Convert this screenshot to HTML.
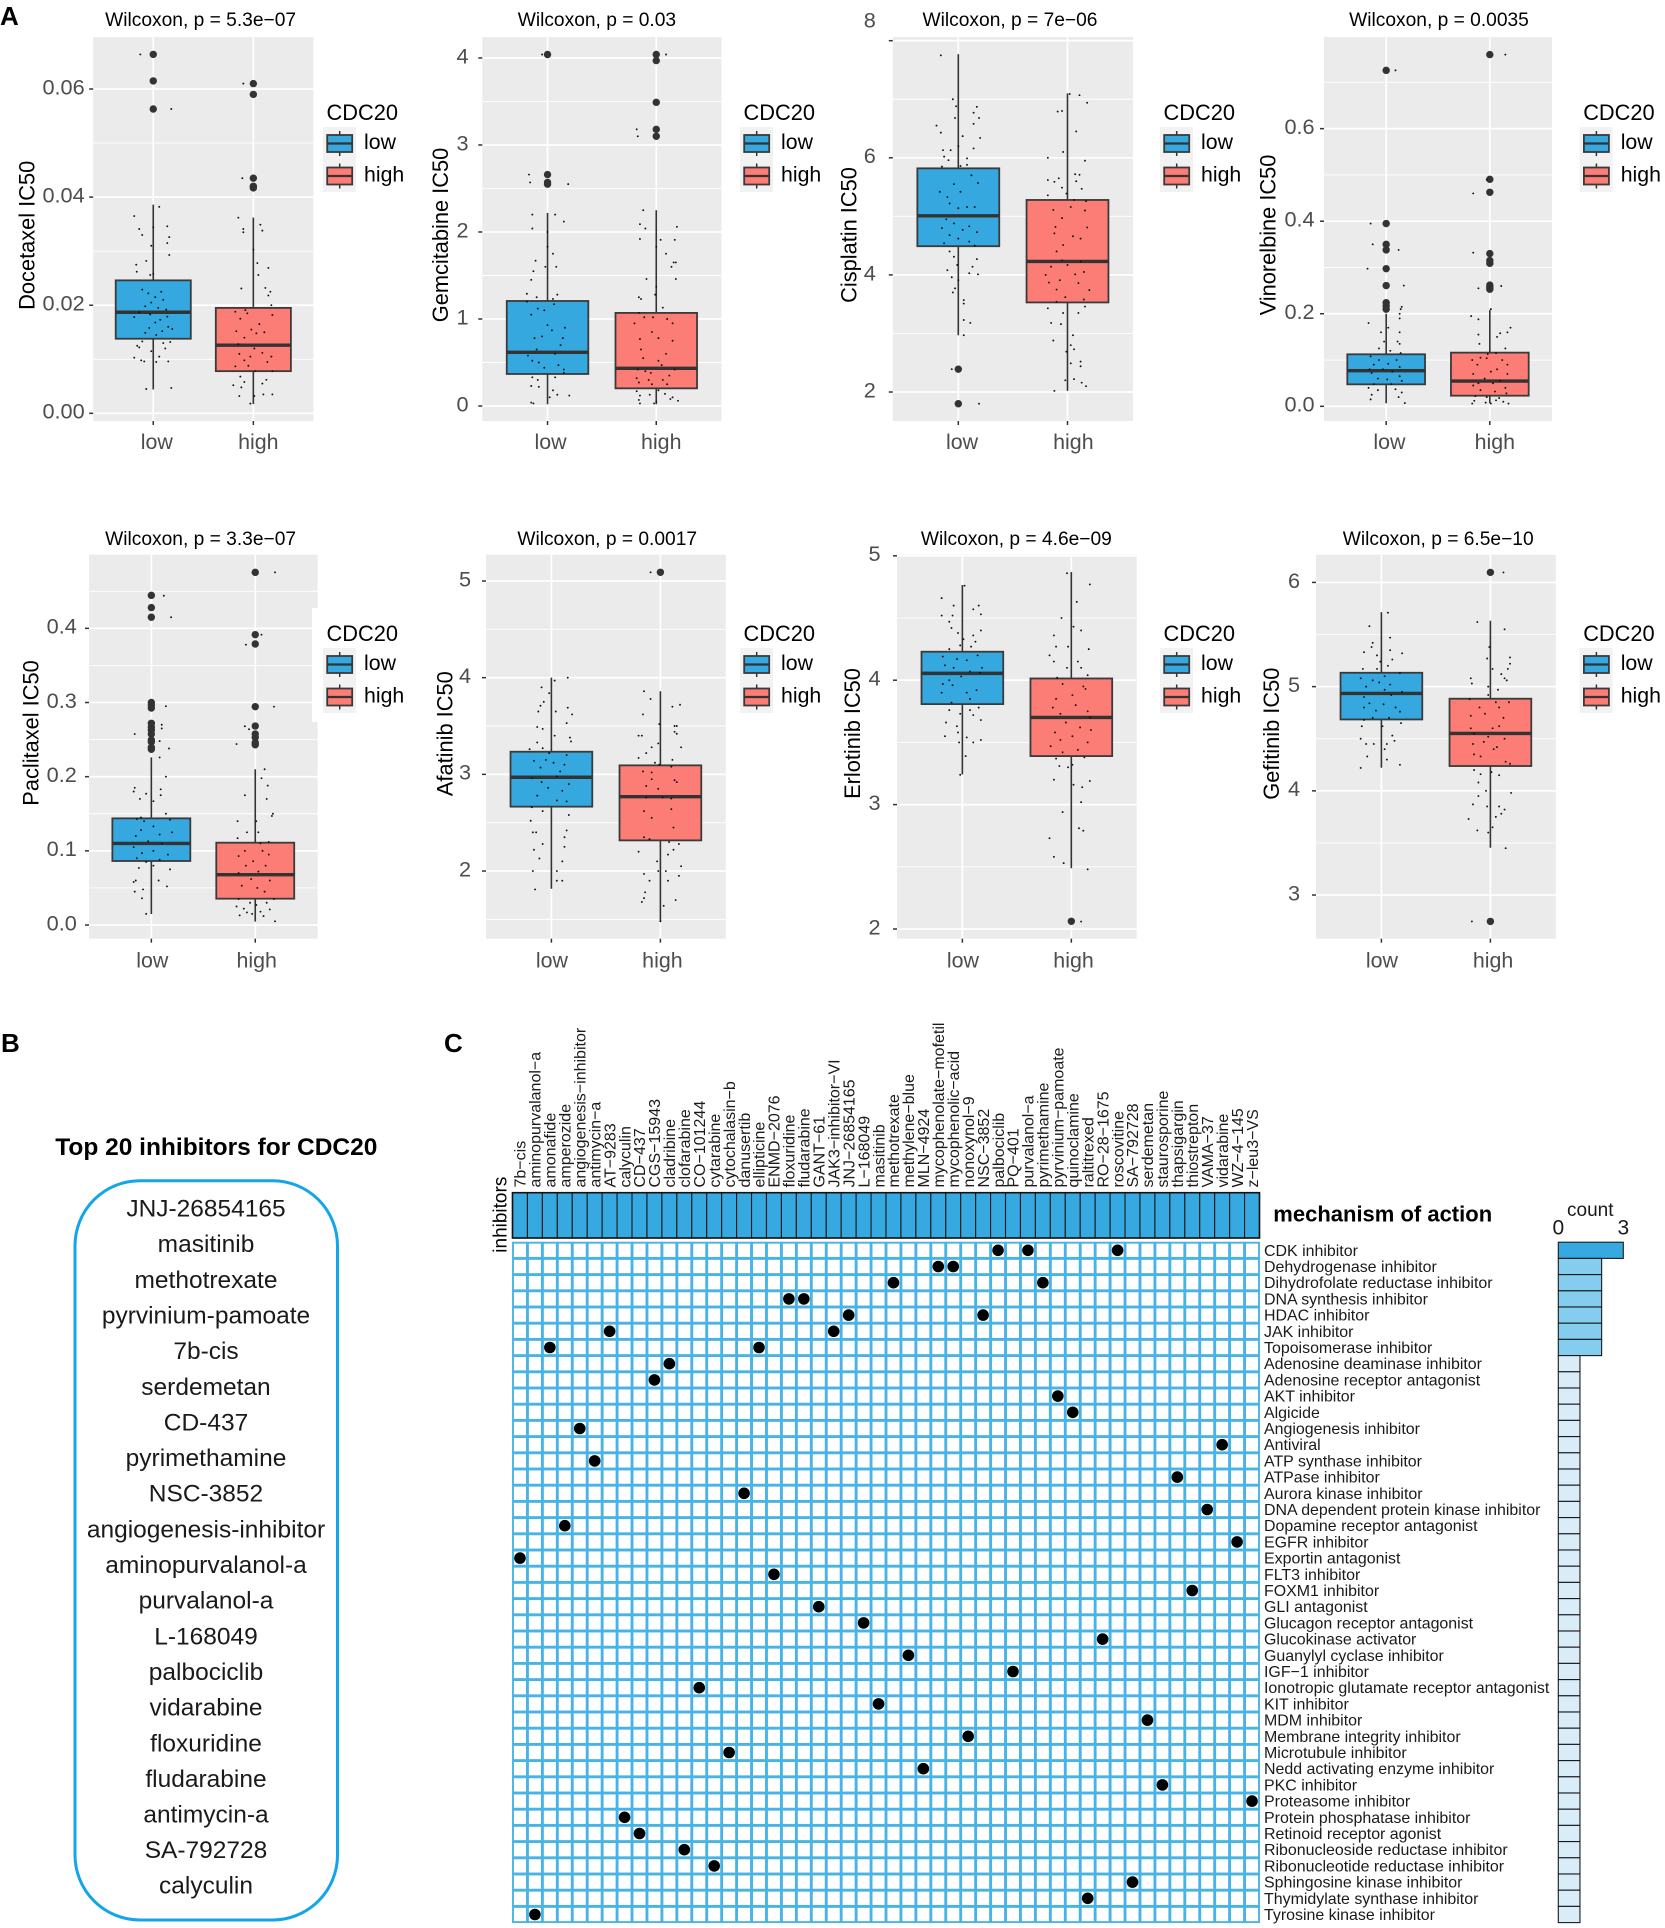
<!DOCTYPE html>
<html lang="en">
<head>
<meta charset="utf-8">
<title>CDC20 drug sensitivity and inhibitor mechanisms</title>
<style>
html,body{margin:0;padding:0;background:#fff}
svg{display:block;font-family:"Liberation Sans",Arial,sans-serif}
</style>
</head>
<body>
<svg id="figure" xmlns="http://www.w3.org/2000/svg" width="1665" height="1928" viewBox="0 0 1665 1928">
<rect width="1665" height="1928" fill="#fff"/>
<text x="0" y="25" font-size="26" font-weight="bold">A</text>
<text x="1" y="1052" font-size="26" font-weight="bold">B</text>
<text x="444" y="1052" font-size="26" font-weight="bold">C</text>
<g id="boxplots"></g>
<g text-anchor="middle" font-size="24.5" fill="#1a1a1a">
<text x="216.3" y="1155" font-size="24.5" font-weight="bold" fill="#000">Top 20 inhibitors for CDC20</text>
<rect x="75" y="1180.7" width="262.5" height="739.3" rx="65" ry="65" fill="none" stroke="#12a5ea" stroke-width="3"/>
<text x="206" y="1216.5">JNJ-26854165</text>
<text x="206" y="1252.15">masitinib</text>
<text x="206" y="1287.8">methotrexate</text>
<text x="206" y="1323.45">pyrvinium-pamoate</text>
<text x="206" y="1359.1">7b-cis</text>
<text x="206" y="1394.75">serdemetan</text>
<text x="206" y="1430.4">CD-437</text>
<text x="206" y="1466.05">pyrimethamine</text>
<text x="206" y="1501.7">NSC-3852</text>
<text x="206" y="1537.35">angiogenesis-inhibitor</text>
<text x="206" y="1573">aminopurvalanol-a</text>
<text x="206" y="1608.65">purvalanol-a</text>
<text x="206" y="1644.3">L-168049</text>
<text x="206" y="1679.95">palbociclib</text>
<text x="206" y="1715.6">vidarabine</text>
<text x="206" y="1751.25">floxuridine</text>
<text x="206" y="1786.9">fludarabine</text>
<text x="206" y="1822.55">antimycin-a</text>
<text x="206" y="1858.2">SA-792728</text>
<text x="206" y="1893.5">calyculin</text>
</g>
<g id="matrix"></g>
</svg>
<script>
const categories = ['low', 'high'];
const legendTitle = 'CDC20';

/* Stats order: lower whisker, Q1, median, Q3, upper whisker. Jitter: [category offset, value]. */
const docetaxelTicks = [0, 0.02, 0.04, 0.06];
const docetaxelTickLabels = ['0.00', '0.02', '0.04', '0.06'];
const docetaxelLowStats = [0.0044, 0.0138, 0.0187, 0.0246, 0.0386];
const docetaxelHighStats = [0.0017, 0.0078, 0.0126, 0.0195, 0.0362];
const docetaxelLowOutliers = [0.0664, 0.0615, 0.0563];
const docetaxelHighOutliers = [0.061, 0.059, 0.0435, 0.042, 0.0417];
const docetaxelLowJitter = [[-.13,.0664],[.18,.0563],[-.19,.0365],[-.14,.0341],[-.11,.033],[0,.0344],[.14,.0346],[.06,.0382],[.16,.0326],[.14,.0315],[-.02,.031],[.16,.0293],[-.17,.0275],[-.165,.0262],[-.07,.0282],[-.03,.0256],[0,.0258],[-.11,.0229],[-.05,.0222],[.08,.0225],[.02,.0215],[-.02,.0205],[.1,.021],[-.08,.0198],[.05,.0195],[.13,.0192],[-.14,.0187],[-.03,.0183],[.14,.0179],[-.19,.0178],[.07,.0173],[.02,.0168],[.15,.016],[-.04,.0158],[.09,.0152],[.19,.0156],[-.08,.0149],[.03,.0145],[-.11,.0133],[-.16,.0125],[.1,.013],[.17,.0132],[-.14,.0122],[.12,.012],[-.02,.0115],[.06,.0105],[-.19,.0103],[.03,.0095],[-.12,.0098],[-.09,.0096],[.15,.0096],[.18,.0047],[-.07,.0045]];
const docetaxelHighJitter = [[-.1,.061],[-.11,.0435],[-.15,.0362],[-.1,.0341],[-.1,.0335],[.07,.0349],[.09,.0338],[0,.0303],[.04,.0278],[.15,.0269],[.05,.0256],[.12,.0232],[-.12,.0231],[.17,.0225],[.15,.0218],[.18,.02],[-.18,.0188],[-.08,.0191],[-.06,.0185],[.19,.0182],[-.13,.0175],[.06,.0165],[-.02,.0155],[-.17,.0152],[.11,.015],[.03,.0148],[-.09,.014],[-.15,.0128],[.01,.012],[.09,.0112],[-.14,.011],[-.03,.0105],[.18,.0105],[-.09,.0098],[.14,.0095],[-.05,.0088],[-.18,.0087],[.19,.0078],[.02,.0078],[-.13,.0068],[.13,.0062],[-.09,.0058],[.09,.0055],[-.2,.0052],[-.12,.0048],[.1,.0035],[.19,.0035],[-.14,.0032],[.01,.0032],[-.03,.0018]];

const gemcitabineTicks = [0, 1, 2, 3, 4];
const gemcitabineTickLabels = ['0', '1', '2', '3', '4'];
const gemcitabineLowStats = [0.02, 0.368, 0.617, 1.207, 2.22];
const gemcitabineHighStats = [0.02, 0.203, 0.433, 1.07, 2.25];
const gemcitabineLowOutliers = [4.04, 2.66, 2.57, 2.55];
const gemcitabineHighOutliers = [4.04, 3.97, 3.49, 3.18, 3.1];
const gemcitabineLowJitter = [[-.05,4.04],[-.17,2.66],[-.16,2.57],[.19,2.55],[-.14,2.2],[.07,2.2],[.15,2.12],[-.14,2.04],[0,2],[0,1.83],[.05,1.75],[-.11,1.67],[.08,1.6],[-.02,1.6],[-.13,1.55],[-.15,1.45],[-.19,1.29],[.09,1.28],[-.1,1.25],[.05,1.23],[-.19,1.2],[.06,1.17],[-.09,1.12],[-.15,1.05],[-.03,1.1],[0,.93],[.16,.9],[.04,.87],[-.05,.8],[.14,.78],[-.12,.78],[.12,.7],[-.1,.65],[.07,.6],[-.18,.58],[-.14,.52],[-.08,.5],[.1,.47],[-.03,.44],[.15,.42],[.15,.38],[-.14,.33],[.07,.33],[-.09,.3],[-.15,.23],[-.08,.22],[.05,.18],[.09,.13],[.2,.12],[-.15,.04],[-.13,.03],[.02,.1]];
const gemcitabineHighJitter = [[.09,4.04],[-.18,3.18],[-.17,3.1],[-.12,2.25],[-.15,2.09],[-.1,2.04],[.19,2.06],[-.15,1.92],[.04,1.91],[.17,1.91],[.09,1.75],[0,1.83],[.16,1.65],[.18,1.65],[.14,1.6],[.18,1.46],[-.09,1.46],[0,1.37],[-.16,1.25],[-.14,1.23],[.06,1.13],[-.01,1.28],[-.16,1.07],[-.11,1.02],[-.03,1.02],[.1,1],[-.2,.95],[.15,.95],[-.15,.77],[-.04,.85],[.02,.78],[.15,.75],[-.14,.65],[.09,.6],[-.12,.55],[.02,.52],[.05,.47],[-.17,.42],[.17,.42],[-.1,.4],[-.05,.38],[.12,.35],[-.18,.32],[-.07,.3],[.06,.3],[-.16,.27],[.1,.25],[-.04,.25],[-.18,.17],[.02,.18],[-.15,.12],[-.06,.13],[.08,.14],[.15,.1],[-.16,.07],[0,.05],[.13,.08],[-.02,.03],[.2,.06],[-.15,.03]];

const cisplatinTicks = [2, 4, 6, 8];
const cisplatinTickLabels = ['2', '4', '6', '8'];
const cisplatinLowStats = [2.97, 4.49, 5.01, 5.82, 7.77];
const cisplatinHighStats = [2.02, 3.53, 4.23, 5.28, 7.1];
const cisplatinLowOutliers = [2.39, 1.8];
const cisplatinHighOutliers = [];
const cisplatinLowJitter = [[-.16,7.75],[-.05,7],[-.02,6.88],[.17,6.87],[.14,6.77],[.19,6.68],[-.03,6.68],[.14,6.58],[-.2,6.55],[-.16,6.43],[.04,6.37],[.2,6.34],[.14,6.16],[-.14,6.13],[-.07,6.13],[0,6.2],[-.13,6.02],[.08,5.99],[-.09,5.96],[-.15,5.85],[.08,5.88],[.02,5.86],[.12,5.7],[.18,5.57],[-.04,5.55],[-.17,5.42],[.02,5.42],[-.1,5.33],[-.08,5.22],[.15,5.16],[.08,5.16],[0,5.14],[-.11,4.95],[-.04,4.88],[.1,4.83],[-.15,4.8],[.04,4.77],[.17,4.73],[-.08,4.68],[0,4.62],[-.13,4.54],[.1,4.57],[.15,4.5],[-.08,4.4],[-.04,4.31],[.17,4.27],[-.01,4.17],[.13,4.14],[-.1,4.08],[.1,4.03],[.18,4.01],[-.06,3.96],[0,3.91],[-.03,3.77],[-.05,3.7],[.05,3.57],[.05,3.51],[.05,3.23],[.11,3.18],[.05,2.97],[-.06,2.39],[.19,1.8]];
const cisplatinHighJitter = [[.02,7.09],[.11,7.07],[.18,6.94],[-.05,6.8],[-.09,6.79],[.08,6.45],[-.04,6.1],[-.18,6],[.16,5.95],[.07,5.72],[.11,5.71],[-.08,5.65],[-.18,5.62],[-.12,5.59],[.08,5.6],[-.05,5.49],[.13,5.47],[-.01,5.39],[-.18,5.36],[.06,5.28],[.17,5.26],[-.13,5.11],[.16,5.1],[.03,5.16],[-.05,4.97],[-.11,4.82],[.18,4.81],[.05,4.66],[.12,4.62],[-.12,4.71],[-.04,4.51],[-.1,4.4],[.12,4.23],[-.05,4.25],[-.15,4.14],[0,4.17],[.15,4.05],[.07,4.01],[-.2,4],[-.07,3.91],[.1,3.86],[-.17,3.87],[.2,3.74],[-.1,3.75],[-.02,3.62],[.15,3.58],[-.1,3.54],[.16,3.46],[-.18,3.43],[-.04,3.35],[.1,3.35],[-.15,3.18],[-.06,3.16],[.05,2.97],[-.13,2.88],[.03,2.8],[.06,2.73],[-.01,2.69],[.03,2.49],[.12,2.52],[.12,2.44],[-.02,2.2],[.06,2.22],[.13,2.16],[.17,2.1],[-.12,2.02]];

const vinorelbineTicks = [0, 0.2, 0.4, 0.6];
const vinorelbineTickLabels = ['0.0', '0.2', '0.4', '0.6'];
const vinorelbineLowStats = [0.0065, 0.0475, 0.077, 0.1124, 0.2];
const vinorelbineHighStats = [0.0065, 0.023, 0.0547, 0.116, 0.208];
const vinorelbineLowOutliers = [0.726, 0.395, 0.35, 0.338, 0.2975, 0.261, 0.224, 0.217, 0.21];
const vinorelbineHighOutliers = [0.76, 0.4905, 0.4625, 0.33, 0.315, 0.309, 0.262, 0.257, 0.253];
const vinorelbineLowJitter = [[.09,.726],[-.15,.395],[-.13,.35],[.12,.338],[-.18,.2975],[.17,.261],[.15,.215],[.14,.21],[.13,.2],[-.17,.18],[.13,.19],[.02,.17],[-.05,.16],[.13,.16],[-.02,.14],[.11,.14],[.13,.135],[-.07,.125],[.04,.12],[.14,.115],[-.15,.108],[-.07,.1],[.1,.1],[-.12,.09],[.02,.092],[-.16,.08],[.13,.085],[-.03,.08],[.06,.075],[-.14,.072],[.13,.065],[-.08,.06],[.01,.058],[.15,.055],[-.12,.048],[.05,.048],[-.17,.04],[-.08,.035],[.09,.037],[.15,.03],[-.14,.025],[.12,.02],[-.15,.015],[.18,.007]];
const vinorelbineHighJitter = [[.15,.76],[-.03,.49],[-.16,.46],[-.16,.332],[.11,.26],[-.11,.255],[.01,.21],[-.18,.195],[-.11,.188],[.2,.17],[.17,.16],[.1,.158],[.07,.15],[-.11,.155],[-.1,.135],[.15,.125],[.06,.115],[-.02,.113],[-.17,.1],[-.09,.105],[.12,.1],[-.03,.104],[.17,.09],[.07,.08],[-.12,.09],[.01,.075],[-.16,.07],[.17,.07],[-.05,.06],[.1,.055],[-.11,.05],[.03,.05],[-.16,.045],[.15,.04],[-.09,.035],[.05,.032],[.16,.028],[-.14,.022],[-.03,.02],[.09,.018],[-.15,.012],[.06,.013],[-.04,.008],[.13,.01],[-.17,.006],[.18,.006],[.01,.006]];

const paclitaxelTicks = [0, 0.1, 0.2, 0.3, 0.4];
const paclitaxelTickLabels = ['0.0', '0.1', '0.2', '0.3', '0.4'];
const paclitaxelLowStats = [0.0148, 0.0863, 0.11, 0.1438, 0.226];
const paclitaxelHighStats = [0.0045, 0.0355, 0.0679, 0.111, 0.21];
const paclitaxelLowOutliers = [0.4445, 0.428, 0.415, 0.3, 0.2966, 0.2926, 0.272, 0.267, 0.263, 0.2575, 0.2494, 0.247, 0.2396, 0.2369];
const paclitaxelHighOutliers = [0.4755, 0.3915, 0.3789, 0.2944, 0.2683, 0.2575, 0.253, 0.2458, 0.243];
const paclitaxelLowJitter = [[.12,.444],[.19,.415],[.14,.295],[.1,.27],[.1,.265],[-.16,.2575],[.08,.248],[.17,.238],[.08,.226],[.14,.2],[-.16,.185],[-.17,.18],[.09,.183],[.09,.175],[-.05,.177],[-.11,.17],[.02,.167],[.14,.15],[-.1,.145],[-.14,.143],[.18,.142],[-.07,.14],[.02,.133],[-.1,.128],[.2,.125],[-.15,.12],[.08,.122],[-.03,.113],[.1,.11],[-.17,.105],[.02,.1],[-.09,.097],[.16,.095],[-.14,.09],[.08,.088],[-.05,.085],[.02,.08],[-.12,.077],[.18,.075],[-.15,.06],[-.17,.058],[.07,.06],[.15,.052],[-.08,.048],[-.16,.045],[-.09,.036],[-.05,.015]];
const paclitaxelHighJitter = [[.19,.4755],[.06,.3915],[-.09,.378],[.18,.2944],[-.1,.268],[-.06,.264],[-.18,.244],[.09,.21],[.06,.198],[.12,.188],[.11,.17],[-.1,.175],[.16,.147],[.17,.15],[-.17,.14],[.01,.14],[-.08,.125],[.03,.125],[-.17,.117],[.13,.112],[.05,.11],[-.1,.1],[.07,.1],[-.16,.093],[.13,.095],[-.02,.086],[-.09,.08],[.1,.08],[-.16,.07],[.03,.072],[-.04,.062],[.14,.06],[-.13,.053],[.02,.05],[.09,.045],[-.16,.035],[.18,.035],[-.05,.03],[.11,.03],[-.18,.025],[.01,.027],[-.11,.022],[.14,.021],[-.08,.017],[.05,.018],[-.15,.013],[-.03,.015],[.08,.012],[.19,.005]];

const afatinibTicks = [2, 3, 4, 5];
const afatinibTickLabels = ['2', '3', '4', '5'];
const afatinibLowStats = [1.817, 2.666, 2.97, 3.234, 4];
const afatinibHighStats = [1.479, 2.317, 2.769, 3.093, 3.859];
const afatinibLowOutliers = [];
const afatinibHighOutliers = [5.09];
const afatinibLowJitter = [[.15,4],[.03,3.97],[-.09,3.9],[-.02,3.84],[-.07,3.75],[-.1,3.71],[.15,3.69],[-.12,3.65],[.19,3.62],[.04,3.65],[.14,3.53],[-.13,3.49],[-.08,3.47],[.17,3.38],[.18,3.34],[.03,3.4],[-.13,3.33],[-.2,3.26],[-.08,3.27],[-.02,3.22],[.14,3.2],[-.16,3.14],[-.05,3.15],[.02,3.12],[.12,3.1],[-.1,3.07],[.08,3.03],[-.18,2.96],[.05,2.98],[-.09,2.92],[.16,2.9],[-.03,2.86],[.1,2.83],[-.13,2.78],[.05,2.73],[.14,2.72],[-.18,2.66],[-.08,2.62],[.16,2.58],[-.19,2.52],[.14,2.42],[-.17,2.4],[-.14,2.4],[.12,2.35],[-.08,2.28],[.12,2.25],[-.16,2.22],[-.11,2.13],[.1,2.1],[-.17,2],[.05,2],[.05,1.9],[.1,1.9],[-.15,1.81]];
const afatinibHighJitter = [[-.09,5.09],[-.15,3.86],[-.09,3.78],[.11,3.7],[.18,3.72],[-.16,3.62],[-.01,3.52],[.13,3.5],[.15,3.5],[.13,3.44],[.15,3.42],[-.2,3.4],[-.17,3.4],[-.02,3.32],[-.08,3.28],[.19,3.28],[-.13,3.22],[-.2,3.17],[.11,3.15],[-.05,3.12],[-.01,3.1],[.1,3.08],[-.16,3.03],[-.08,3.02],[.13,2.94],[-.08,2.95],[.15,2.92],[-.13,2.88],[-.02,2.85],[.02,2.76],[-.13,2.76],[.1,2.75],[-.15,2.62],[.1,2.64],[-.08,2.55],[.12,2.45],[-.15,2.35],[-.1,2.33],[.17,2.28],[.08,2.3],[-.2,2.2],[.07,2.17],[.12,2.22],[-.03,2.1],[.19,2.05],[-.02,2],[.05,2],[-.15,1.97],[.17,1.95],[-.1,1.9],[.07,1.9],[-.14,1.78],[-.17,1.68],[-.15,1.72],[.14,1.7],[.03,1.64],[0,1.48]];

const erlotinibTicks = [2, 3, 4, 5];
const erlotinibTickLabels = ['2', '3', '4', '5'];
const erlotinibLowStats = [3.243, 3.808, 4.055, 4.229, 4.765];
const erlotinibHighStats = [2.488, 3.39, 3.701, 4.014, 4.87];
const erlotinibLowOutliers = [];
const erlotinibHighOutliers = [2.062];
const erlotinibLowJitter = [[.02,4.76],[-.19,4.66],[-.08,4.6],[.15,4.6],[.1,4.57],[.17,4.53],[-.19,4.52],[-.09,4.52],[-.12,4.47],[-.1,4.42],[.17,4.4],[-.04,4.38],[.1,4.36],[.01,4.33],[.12,4.31],[-.02,4.28],[.08,4.27],[-.12,4.25],[.14,4.2],[-.18,4.19],[-.05,4.17],[.04,4.16],[.18,4.1],[-.16,4.12],[-.08,4.1],[.07,4.07],[-.01,4.03],[.16,4.06],[-.12,4],[-.18,3.97],[-.09,3.96],[.13,3.92],[.04,3.9],[-.19,3.9],[.07,3.85],[-.1,3.82],[.15,3.78],[-.12,3.76],[.07,3.76],[-.02,3.73],[.17,3.68],[-.15,3.66],[.1,3.72],[-.05,3.63],[-.04,3.58],[.17,3.52],[-.16,3.55],[.04,3.54],[-.03,3.5],[.1,3.5],[.03,3.39],[-.02,3.24]];
const erlotinibHighJitter = [[-.04,4.86],[.17,4.77],[.05,4.63],[-.09,4.5],[.02,4.43],[.09,4.4],[-.16,4.36],[-.14,4.27],[-.03,4.27],[.16,4.25],[-.2,4.2],[-.16,4.15],[.06,4.15],[-.04,4.1],[.09,4.1],[.15,4.04],[-.13,4.02],[.11,3.95],[-.08,3.97],[.13,3.93],[-.14,3.85],[.01,3.88],[-.17,3.78],[.04,3.8],[.15,3.75],[-.1,3.73],[.17,3.7],[-.05,3.66],[.08,3.62],[-.15,3.58],[.18,3.6],[.01,3.55],[-.1,3.52],[.15,3.5],[-.19,3.47],[.06,3.44],[-.08,3.42],[-.14,3.37],[.12,3.38],[-.03,3.3],[-.11,3.31],[.01,3.32],[-.16,3.2],[.17,3.19],[.02,3.16],[.1,3.14],[.09,3.02],[-.08,2.94],[.07,2.81],[.11,2.79],[-.2,2.73],[-.16,2.58],[-.07,2.53],[.15,2.48],[.09,2.06]];

const gefitinibTicks = [3, 4, 5, 6];
const gefitinibTickLabels = ['3', '4', '5', '6'];
const gefitinibLowStats = [4.222, 4.685, 4.935, 5.133, 5.715];
const gefitinibHighStats = [3.454, 4.238, 4.551, 4.884, 5.632];
const gefitinibLowOutliers = [];
const gefitinibHighOutliers = [6.096, 2.747];
const gefitinibLowJitter = [[.06,5.71],[-.11,5.58],[.08,5.47],[-.08,5.42],[-.09,5.38],[.08,5.35],[-.16,5.33],[-.04,5.3],[.19,5.32],[.1,5.26],[.06,5.2],[-.01,5.24],[-.17,5.17],[-.04,5.17],[.03,5.1],[.17,5.13],[-.19,5.08],[-.08,5.06],[-.02,5.04],[.08,5.02],[-.14,5],[.03,4.97],[-.16,4.9],[.19,4.95],[.09,4.92],[-.11,4.84],[.02,4.83],[.13,4.8],[-.16,4.8],[-.05,4.77],[.17,4.76],[-.08,4.7],[.07,4.7],[-.16,4.68],[-.18,4.62],[.01,4.62],[.18,4.65],[-.19,4.5],[.1,4.53],[.12,4.48],[-.07,4.45],[.05,4.45],[-.14,4.45],[.03,4.4],[-.13,4.33],[.05,4.3],[.17,4.25],[-.19,4.22]];
const gefitinibHighJitter = [[.12,6.096],[-.12,5.62],[.13,5.55],[-.01,5.38],[-.03,5.27],[.18,5.28],[.18,5.22],[.02,5.17],[.16,5.17],[.1,5.12],[.13,5.08],[-.18,5.08],[-.17,5.03],[.15,5.06],[-.02,5],[.07,4.97],[-.02,4.92],[-.19,4.88],[.17,4.85],[.05,4.85],[-.1,4.8],[.08,4.8],[-.18,4.72],[-.05,4.74],[.12,4.7],[-.18,4.6],[.02,4.6],[.08,4.62],[-.15,4.55],[-.02,4.52],[.13,4.5],[-.16,4.45],[-.06,4.47],[.06,4.42],[-.15,4.35],[.03,4.4],[-.09,4.33],[.14,4.28],[.18,4.26],[-.15,4.2],[-.09,4.16],[.01,4.18],[.08,4.15],[-.11,4.08],[-.04,4],[-.11,3.95],[.19,3.98],[.08,3.85],[-.16,3.87],[.13,3.82],[-.03,3.85],[.05,3.75],[-.2,3.73],[.1,3.78],[-.12,3.62],[.02,3.65],[-.02,3.6],[.14,3.45],[-.17,2.747]];

/* Matrix data: drug columns, mechanism rows and the drugs belonging to each mechanism. */
const drugNames = ['7b−cis','aminopurvalanol−a','amonafide','amperozide','angiogenesis−inhibitor','antimycin−a','AT−9283','calyculin','CD−437','CGS−15943','cladribine','clofarabine','CO−101244','cytarabine','cytochalasin−b','danusertib','ellipticine','ENMD−2076','floxuridine','fludarabine','GANT−61','JAK3−inhibitor−VI','JNJ−26854165','L−168049','masitinib','methotrexate','methylene−blue','MLN−4924','mycophenolate−mofetil','mycophenolic−acid','nonoxynol−9','NSC−3852','palbociclib','PQ−401','purvalanol−a','pyrimethamine','pyrvinium−pamoate','quinoclamine','raltitrexed','RO−28−1675','roscovitine','SA−792728','serdemetan','staurosporine','thapsigargin','thiostrepton','VAMA−37','vidarabine','WZ−4−145','z−leu3−VS'];
const mechanismNames = ['CDK inhibitor','Dehydrogenase inhibitor','Dihydrofolate reductase inhibitor','DNA synthesis inhibitor','HDAC inhibitor','JAK inhibitor','Topoisomerase inhibitor','Adenosine deaminase inhibitor','Adenosine receptor antagonist','AKT inhibitor','Algicide','Angiogenesis inhibitor','Antiviral','ATP synthase inhibitor','ATPase inhibitor','Aurora kinase inhibitor','DNA dependent protein kinase inhibitor','Dopamine receptor antagonist','EGFR inhibitor','Exportin antagonist','FLT3 inhibitor','FOXM1 inhibitor','GLI antagonist','Glucagon receptor antagonist','Glucokinase activator','Guanylyl cyclase inhibitor','IGF−1 inhibitor','Ionotropic glutamate receptor antagonist','KIT inhibitor','MDM inhibitor','Membrane integrity inhibitor','Microtubule inhibitor','Nedd activating enzyme inhibitor','PKC inhibitor','Proteasome inhibitor','Protein phosphatase inhibitor','Retinoid receptor agonist','Ribonucleoside reductase inhibitor','Ribonucleotide reductase inhibitor','Sphingosine kinase inhibitor','Thymidylate synthase inhibitor','Tyrosine kinase inhibitor'];
const mechanismDrugColumns = [[32,34,40],[28,29],[25,35],[18,19],[22,31],[6,21],[2,16],[10],[9],[36],[37],[4],[47],[5],[44],[15],[46],[3],[48],[0],[17],[45],[20],[23],[39],[26],[33],[12],[24],[42],[30],[14],[27],[43],[49],[7],[8],[11],[13],[41],[38],[1]];
const countAxisMax = 3;
const countTickLabels = ['0', '3'];

const panels = [
  {id:'docetaxel',title:'Wilcoxon, p = 5.3e−07',yTitle:'Docetaxel IC50',ticks:docetaxelTicks,tickLabels:docetaxelTickLabels,stats:[docetaxelLowStats,docetaxelHighStats],outliers:[docetaxelLowOutliers,docetaxelHighOutliers],jitter:[docetaxelLowJitter,docetaxelHighJitter],
   L:93.2,R:313.4,T:37,B:421,domain:[-0.00142,0.06962],labelRight:84.7,titleX:200.6,titleY:26,yTitleX:34.4,yTitleY:235.3,legendX:323,legendY:127,xLabelY:449,xShift:[3.5,5]},
  {id:'gemcitabine',title:'Wilcoxon, p = 0.03',yTitle:'Gemcitabine IC50',ticks:gemcitabineTicks,tickLabels:gemcitabineTickLabels,stats:[gemcitabineLowStats,gemcitabineHighStats],outliers:[gemcitabineLowOutliers,gemcitabineHighOutliers],jitter:[gemcitabineLowJitter,gemcitabineHighJitter],
   L:482.3,R:721.5,T:37,B:421,domain:[-0.1724,4.241],labelRight:468.5,titleX:596.9,titleY:26,yTitleX:448,yTitleY:235,legendX:740,legendY:127,xLabelY:449,xShift:[3,5]},
  {id:'cisplatin',title:'Wilcoxon, p = 7e−06',yTitle:'Cisplatin IC50',ticks:cisplatinTicks,tickLabels:cisplatinTickLabels,stats:[cisplatinLowStats,cisplatinHighStats],outliers:[cisplatinLowOutliers,cisplatinHighOutliers],jitter:[cisplatinLowJitter,cisplatinHighJitter],
   L:892.8,R:1133,T:37,B:421,domain:[1.505,8.063],labelRight:875.8,titleX:1010,titleY:26,yTitleX:856.6,yTitleY:235,legendX:1160,legendY:127,xLabelY:449,xShift:[3.7,5.9],topLabelShift:-18.6},
  {id:'vinorelbine',title:'Wilcoxon, p = 0.0035',yTitle:'Vinorelbine IC50',ticks:vinorelbineTicks,tickLabels:vinorelbineTickLabels,stats:[vinorelbineLowStats,vinorelbineHighStats],outliers:[vinorelbineLowOutliers,vinorelbineHighOutliers],jitter:[vinorelbineLowJitter,vinorelbineHighJitter],
   L:1324,R:1552,T:37,B:421,domain:[-0.0317,0.798],labelRight:1314.6,titleX:1439,titleY:26,yTitleX:1275.5,yTitleY:235,legendX:1579.7,legendY:127,xLabelY:449,xShift:[3.2,5]},
  {id:'paclitaxel',title:'Wilcoxon, p = 3.3e−07',yTitle:'Paclitaxel IC50',ticks:paclitaxelTicks,tickLabels:paclitaxelTickLabels,stats:[paclitaxelLowStats,paclitaxelHighStats],outliers:[paclitaxelLowOutliers,paclitaxelHighOutliers],jitter:[paclitaxelLowJitter,paclitaxelHighJitter],
   L:89,R:317.6,T:554.7,B:938.7,domain:[-0.01847,0.4993],labelRight:76.8,titleX:200.6,titleY:545,yTitleX:38.7,yTitleY:733,legendX:323,legendY:648,xLabelY:967.3,xShift:[1,1.5],legendCut:[312,608,11,114]},
  {id:'afatinib',title:'Wilcoxon, p = 0.0017',yTitle:'Afatinib IC50',ticks:afatinibTicks,tickLabels:afatinibTickLabels,stats:[afatinibLowStats,afatinibHighStats],outliers:[afatinibLowOutliers,afatinibHighOutliers],jitter:[afatinibLowJitter,afatinibHighJitter],
   L:486,R:725.8,T:554.7,B:938.7,domain:[1.3,5.272],labelRight:471,titleX:607.2,titleY:545,yTitleX:452.5,yTitleY:733.7,legendX:740,legendY:648,xLabelY:967.3,xShift:[0.5,2],},
  {id:'erlotinib',title:'Wilcoxon, p = 4.6e−09',yTitle:'Erlotinib IC50',ticks:erlotinibTicks,tickLabels:erlotinibTickLabels,stats:[erlotinibLowStats,erlotinibHighStats],outliers:[erlotinibLowOutliers,erlotinibHighOutliers],jitter:[erlotinibLowJitter,erlotinibHighJitter],
   L:897,R:1136.7,T:554.7,B:938.7,domain:[1.922,5.009],labelRight:880.6,titleX:1016.4,titleY:545,yTitleX:860,yTitleY:733.5,legendX:1160,legendY:648,xLabelY:967.3,xShift:[0.5,2.2]},
  {id:'gefitinib',title:'Wilcoxon, p = 6.5e−10',yTitle:'Gefitinib IC50',ticks:gefitinibTicks,tickLabels:gefitinibTickLabels,stats:[gefitinibLowStats,gefitinibHighStats],outliers:[gefitinibLowOutliers,gefitinibHighOutliers],jitter:[gefitinibLowJitter,gefitinibHighJitter],
   L:1316,R:1555.8,T:554.7,B:938.7,domain:[2.581,6.266],labelRight:1300,titleX:1438.2,titleY:545,yTitleX:1279,yTitleY:733.7,legendX:1579.7,legendY:648,xLabelY:967.3,xShift:[0.5,2.7]}
];

const groupFill = ['#35a9df', '#fb7d75'];
const SVG_NS = 'http://www.w3.org/2000/svg';

function mark(tag, attrs, name, parent, text) {
  const el = document.createElementNS(SVG_NS, tag);
  for (const k in attrs) el.setAttribute(k, attrs[k]);
  
  
  if (text !== undefined) el.textContent = text;
  parent.appendChild(el);
  return el;
}

function drawBoxplot(p, root) {
  const g = mark('g', {}, p.id + '-boxplot', root);
  const xScale = c => p.L + (c + 0.6) / 2.2 * (p.R - p.L);
  const yScale = v => p.B - (v - p.domain[0]) / (p.domain[1] - p.domain[0]) * (p.B - p.T);
  const step = xScale(1) - xScale(0);

  mark('rect', {x:p.L, y:p.T, width:p.R-p.L, height:p.B-p.T, fill:'#ebebeb'}, p.id + '-panel-background', g);

  const tickStep = p.ticks[1] - p.ticks[0];
  for (let v = p.ticks[0] - tickStep / 2; v < p.domain[1]; v += tickStep) {
    if (v <= p.domain[0]) continue;
    mark('line', {x1:p.L, x2:p.R, y1:yScale(v), y2:yScale(v), stroke:'#fff', 'stroke-width':0.9}, p.id + '-minor-gridline', g);
  }
  p.ticks.forEach(v => {
    mark('line', {x1:p.L, x2:p.R, y1:yScale(v), y2:yScale(v), stroke:'#fff', 'stroke-width':1.7}, p.id + '-major-gridline', g);
  });
  categories.forEach((c, i) => {
    mark('line', {x1:xScale(i), x2:xScale(i), y1:p.T, y2:p.B, stroke:'#fff', 'stroke-width':1.7}, p.id + '-vertical-gridline', g);
  });

  p.ticks.forEach((v, i) => {
    const y = yScale(v);
    mark('line', {x1:p.L-4, x2:p.L, y1:y, y2:y, stroke:'#333', 'stroke-width':1.5}, p.id + '-y-tick', g);
    const shift = (i === p.ticks.length - 1 && p.topLabelShift) ? p.topLabelShift : 0;
    mark('text', {x:p.labelRight, y:y+5.4+shift, 'text-anchor':'end', 'font-size':21.7, fill:'#4d4d4d'}, p.id + '-y-tick-label', g, p.tickLabels[i]);
  });

  categories.forEach((c, i) => {
    const cx = xScale(i);
    const [lo, q1, med, q3, hi] = p.stats[i];
    const w = step * 0.75;
    mark('line', {x1:cx, x2:cx, y1:yScale(hi), y2:yScale(lo), stroke:'#333', 'stroke-width':1.6}, p.id + '-' + c + '-whisker', g);
    mark('rect', {x:cx-w/2, y:yScale(q3), width:w, height:yScale(q1)-yScale(q3), fill:groupFill[i], stroke:'#3a3a3a', 'stroke-width':1.8}, p.id + '-' + c + '-box', g);
    mark('line', {x1:cx-w/2, x2:cx+w/2, y1:yScale(med), y2:yScale(med), stroke:'#333', 'stroke-width':3.4}, p.id + '-' + c + '-median', g);
    p.outliers[i].forEach(v => {
      mark('circle', {cx:cx, cy:yScale(v), r:3.7, fill:'#333'}, p.id + '-' + c + '-outlier', g);
    });
    p.jitter[i].forEach(pt => {
      mark('circle', {cx:cx+pt[0]*step, cy:yScale(pt[1]), r:0.95, fill:'#111'}, p.id + '-' + c + '-jitter-point', g);
    });
    mark('line', {x1:cx, x2:cx, y1:p.B, y2:p.B+4, stroke:'#333', 'stroke-width':1.5}, p.id + '-x-tick', g);
    mark('text', {x:cx+p.xShift[i], y:p.xLabelY, 'text-anchor':'middle', 'font-size':21.4, fill:'#4d4d4d'}, p.id + '-x-tick-label', g, c);
  });

  if (p.legendCut) {
    mark('rect', {x:p.legendCut[0], y:p.legendCut[1], width:p.legendCut[2], height:p.legendCut[3], fill:'#fff'}, p.id + '-legend-backing', g);
  }

  mark('text', {x:p.titleX, y:p.titleY, 'text-anchor':'middle', 'font-size':19.2, fill:'#000'}, p.id + '-title', g, p.title);
  mark('text', {transform:'translate(' + p.yTitleX + ' ' + p.yTitleY + ') rotate(-90)', 'text-anchor':'middle', 'font-size':21.8, fill:'#000'}, p.id + '-y-axis-title', g, p.yTitle);

  const lg = mark('g', {}, p.id + '-legend', g);
  mark('text', {x:p.legendX+3.5, y:p.legendY-7, 'font-size':21.8, fill:'#000'}, p.id + '-legend-title', lg, legendTitle);
  categories.forEach((c, i) => {
    const ky = p.legendY + i * 32.5;
    const entry = mark('g', {}, p.id + '-legend-entry-' + c, lg);
    mark('rect', {x:p.legendX, y:ky, width:33, height:32.5, fill:'#f2f2f2'}, p.id + '-legend-key-background', entry);
    mark('line', {x1:p.legendX+16.7, x2:p.legendX+16.7, y1:ky+4, y2:ky+29, stroke:'#333', 'stroke-width':1.5}, p.id + '-legend-key-whisker', entry);
    mark('rect', {x:p.legendX+4.2, y:ky+8, width:25, height:17, fill:groupFill[i], stroke:'#3a3a3a', 'stroke-width':1.8}, p.id + '-legend-key-box', entry);
    mark('line', {x1:p.legendX+4.2, x2:p.legendX+29.2, y1:ky+16.5, y2:ky+16.5, stroke:'#333', 'stroke-width':2.2}, p.id + '-legend-key-median', entry);
    mark('text', {x:p.legendX+41, y:ky+22, 'font-size':21.3, fill:'#000'}, p.id + '-legend-label', entry, c);
  });
}

function drawMatrix(root) {
  const left = 512.5, top = 1242.2, colW = 14.94, rowH = 16.2;
  const colX = j => left + j * colW;
  const rowY = i => top + i * rowH;
  const barX0 = 1558.3, unit = 65 / countAxisMax;
  const count = i => mechanismDrugColumns[i].length;
  const countFill = n => n >= 3 ? '#36a9e1' : n === 2 ? '#84cdee' : '#d8edf8';

  drugNames.forEach((d, j) => {
    mark('text', {transform:'translate(' + (colX(j) + 13.2) + ' 1187.5) rotate(-90)', 'font-size':16, fill:'#1a1a1a'}, 'drug-column-label', root, d);
    mark('rect', {x:colX(j), y:1192.7, width:colW, height:45.3, fill:'#36a9e1', stroke:'#1a1a1a', 'stroke-width':1.1}, 'inhibitor-annotation-cell', root);
  });
  mark('rect', {x:left, y:1192.7, width:colW*drugNames.length, height:45.3, fill:'none', stroke:'#111', 'stroke-width':1.6}, 'inhibitor-annotation-frame', root);
  mark('text', {transform:'translate(506.5 1214.7) rotate(-90)', 'text-anchor':'middle', 'font-size':19, fill:'#000'}, 'inhibitor-annotation-title', root, 'inhibitors');
  mark('text', {x:1273.3, y:1221.7, 'font-size':22, 'font-weight':'bold', fill:'#000'}, 'mechanism-annotation-title', root, 'mechanism of action');

  const grid = mark('g', {}, 'membership-grid', root);
  mechanismNames.forEach((m, i) => {
    drugNames.forEach((d, j) => {
      mark('rect', {x:colX(j)+0.5, y:rowY(i)+0.5, width:colW-1, height:rowH-1, fill:'#fff', stroke:'#48b4e6', 'stroke-width':1.9}, 'membership-cell', grid);
    });
  });
  mechanismNames.forEach((m, i) => {
    mechanismDrugColumns[i].forEach(j => {
      mark('circle', {cx:colX(j)+colW/2, cy:rowY(i)+rowH/2, r:5.8, fill:'#000'}, 'membership-dot', grid);
    });
    mark('text', {x:1264, y:rowY(i)+13.6, 'font-size':15.95, fill:'#1a1a1a'}, 'mechanism-row-label', root, m);
    mark('rect', {x:barX0, y:rowY(i), width:count(i)*unit, height:rowH, fill:countFill(count(i)), stroke:'#1a1a1a', 'stroke-width':1.1}, 'mechanism-count-bar', root);
  });

  mark('text', {x:barX0+32, y:1216, 'text-anchor':'middle', 'font-size':19, fill:'#1a1a1a'}, 'count-axis-title', root, 'count');
  mark('text', {x:barX0, y:1234.3, 'text-anchor':'middle', 'font-size':21, fill:'#1a1a1a'}, 'count-axis-tick-label', root, countTickLabels[0]);
  mark('text', {x:barX0+countAxisMax*unit, y:1234.3, 'text-anchor':'middle', 'font-size':21, fill:'#1a1a1a'}, 'count-axis-tick-label', root, countTickLabels[1]);
}

const boxRoot = document.getElementById('boxplots');
panels.forEach(p => drawBoxplot(p, boxRoot));
drawMatrix(document.getElementById('matrix'));
</script>
</body>
</html>
